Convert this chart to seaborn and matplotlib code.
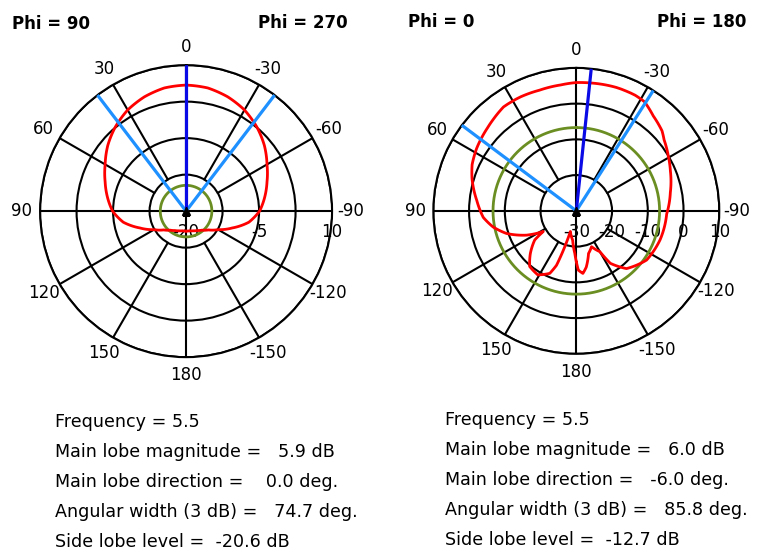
import numpy as np
import matplotlib
matplotlib.use("Agg")
import matplotlib.pyplot as plt
import seaborn as sns

# ── Data ────────────────────────────────────────────────────
# left cut: Phi = 90 / 270, gain in dB per angle (deg)
ang_left = [-180, -170, -160, -150, -140, -130, -120, -110, -100, -90,
            -80, -70, -60, -50, -40, -30, -20, -10, 0,
            10, 20, 30, 40, 50, 60, 70, 80, 90,
            100, 110, 120, 130, 140, 150, 160, 170, 180]
db_left = [-15.9, -15.9, -15.7, -15.4, -14.9, -14.0, -12.4, -9.9, -6.9, -4.9,
           -3.6, -2.3, -0.8, 1.0, 2.6, 4.0, 5.0, 5.7, 5.9,
           5.7, 5.0, 4.0, 2.6, 1.0, -0.8, -2.3, -3.6, -4.9,
           -6.9, -9.9, -12.4, -14.0, -14.9, -15.4, -15.7, -15.9, -15.9]

# right cut: Phi = 0 / 180
ang_right = [-180, -178, -174, -170, -164, -157, -150, -147, -139, -125,
             -109, -92, -79, -67, -59, -51, -47, -39, -32, -27,
             -18, -6, 0, 7, 17, 26, 35, 42, 47, 58,
             66, 73, 84, 94, 101, 108, 116, 122, 125, 133,
             140, 149, 157, 160, 162, 164, 173, 178, 180]
db_right = [-15.8, -13.4, -12.4, -14.0, -17.6, -19.1, -16.8, -12.5, -8.6, -6.0,
            -5.2, -4.7, -3.2, -1.4, 0.0, 1.6, 2.8, 4.2, 6.0, 6.3,
            6.3, 6.0, 5.9, 5.5, 5.3, 5.5, 5.5, 4.6, 4.0, 2.9,
            1.9, 0.5, -2.0, -3.9, -6.3, -9.5, -14.5, -19.1, -15.8, -12.4,
            -9.7, -9.1, -11.0, -13.8, -19.0, -24.0, -21.7, -18.1, -15.8]

phi_titles = [("Phi = 90", "Phi = 270"), ("Phi = 0", "Phi = 180")]
frequency = [5.5, 5.5]
main_mag = [5.9, 6.0]          # dB
main_dir = [0.0, -6.0]         # deg
beam_width = [74.7, 85.8]      # deg, 3 dB
beam_edges = [(37.35, -37.35), (53.2, -32.6)]
side_lobe = [-20.6, -12.7]     # dB relative to main lobe

r_min = [-20, -30]
r_max = [10, 10]
rings = [[-12.5, -5, 2.5, 10], [-20, -10, 0, 10]]
ring_labels = [[-20, -5, 10], [-30, -20, -10, 0, 10]]
theta_ticks = [0, 30, 60, 90, 120, 150, 180, 210, 240, 270, 300, 330]
theta_labels = ["0", "30", "60", "90", "120", "150", "180",
                "-150", "-120", "-90", "-60", "-30"]

# ── Style ──────────────────────────────────────────────────
sns.set_theme(style="white")
plt.rcParams['font.family'] = ['DejaVu Sans']
plt.rcParams['text.color'] = 'black'
RED = "#FF0000"
GREEN = "#6B8E23"
BLUE = "#0A0AE6"
LIGHT = "#1E90FF"

fig = plt.figure(figsize=(7.57, 5.52), dpi=100)
fig.patch.set_facecolor("white")

boxes = [[0.0528, 0.353, 0.386, 0.529], [0.5724, 0.359, 0.3778, 0.518]]
cuts = [(ang_left, db_left), (ang_right, db_right)]

for i in range(2):
    ax = fig.add_axes(boxes[i], projection="polar")
    ax.set_theta_zero_location("N")
    ax.set_theta_direction(1)
    ax.set_ylim(r_min[i], r_max[i])
    ax.set_facecolor("white")

    # rings + spokes
    ax.set_yticks(rings[i])
    ax.set_yticklabels([])
    ax.yaxis.grid(True, color="black", linewidth=1.5)
    ax.xaxis.grid(False)
    ax.set_xticks([])
    ax.spines["polar"].set_color("black")
    ax.spines["polar"].set_linewidth(1.5)
    for t in theta_ticks:
        start = r_min[i] if t % 90 == 0 else rings[i][0]
        ax.plot([np.deg2rad(t)] * 2, [start, r_max[i]], color="black",
                linewidth=1.5, zorder=1)

    # angle labels
    r_lab = r_min[i] + (r_max[i] - r_min[i]) * 1.125
    for t, lab in zip(theta_ticks, theta_labels):
        ax.text(np.deg2rad(t), r_lab, lab, ha="center", va="center",
                fontsize=12, color="black")
    # dB labels along the -90 axis
    for v in ring_labels[i]:
        ax.annotate(str(v), xy=(np.deg2rad(-90), v), xytext=(0, -15),
                    textcoords="offset points", ha="center", va="center",
                    fontsize=12, color="black", annotation_clip=False)

    # side lobe level circle
    sl = main_mag[i] + side_lobe[i]
    circ = np.linspace(0, 2 * np.pi, 361)
    sns.lineplot(x=circ, y=np.full_like(circ, sl), ax=ax, color=GREEN,
                 linewidth=2, sort=False, estimator=None, zorder=3)

    # pattern
    ang, db = cuts[i]
    sns.lineplot(x=np.deg2rad(ang), y=db, ax=ax, color=RED, linewidth=2,
                 sort=False, estimator=None, zorder=4)
    ax.lines[-1].get_path()._interpolation_steps = 10

    # beam lines
    for e in beam_edges[i]:
        ax.plot([np.deg2rad(e)] * 2, [r_min[i], r_max[i]], color=LIGHT,
                linewidth=2.3, zorder=5)
    ax.plot([np.deg2rad(main_dir[i])] * 2, [r_min[i], r_max[i]], color=BLUE,
            linewidth=2.3, zorder=6)
    ax.plot([0], [r_min[i]], marker="^", color="black", markersize=6, zorder=7)

    ax.set_xlabel("")
    ax.set_ylabel("")
    if ax.get_legend():
        ax.get_legend().remove()

# Phi headings
fig.text(12 / 757, 1 - 24 / 552, phi_titles[0][0], ha="left", va="center",
         fontsize=12, fontweight="bold", color="black")
fig.text(348 / 757, 1 - 23 / 552, phi_titles[0][1], ha="right", va="center",
         fontsize=12, fontweight="bold", color="black")
fig.text(408 / 757, 1 - 22 / 552, phi_titles[1][0], ha="left", va="center",
         fontsize=12, fontweight="bold", color="black")
fig.text(746 / 757, 1 - 22 / 552, phi_titles[1][1], ha="right", va="center",
         fontsize=12, fontweight="bold", color="black")

# summary blocks
x0 = [55, 445]
base0 = [427, 425]
for i in range(2):
    lines = [
        f"Frequency = {frequency[i]}",
        f"Main lobe magnitude =   {main_mag[i]:.1f} dB",
        f"Main lobe direction =   {main_dir[i]:4.1f} deg.",
        f"Angular width (3 dB) =   {beam_width[i]:.1f} deg.",
        f"Side lobe level =  {side_lobe[i]:.1f} dB",
    ]
    for k, s in enumerate(lines):
        fig.text(x0[i] / 757, 1 - (base0[i] + 30 * k) / 552, s, ha="left",
                 va="baseline", fontsize=12.6, color="black")

fig.savefig("out.png", dpi=100, facecolor="white")
